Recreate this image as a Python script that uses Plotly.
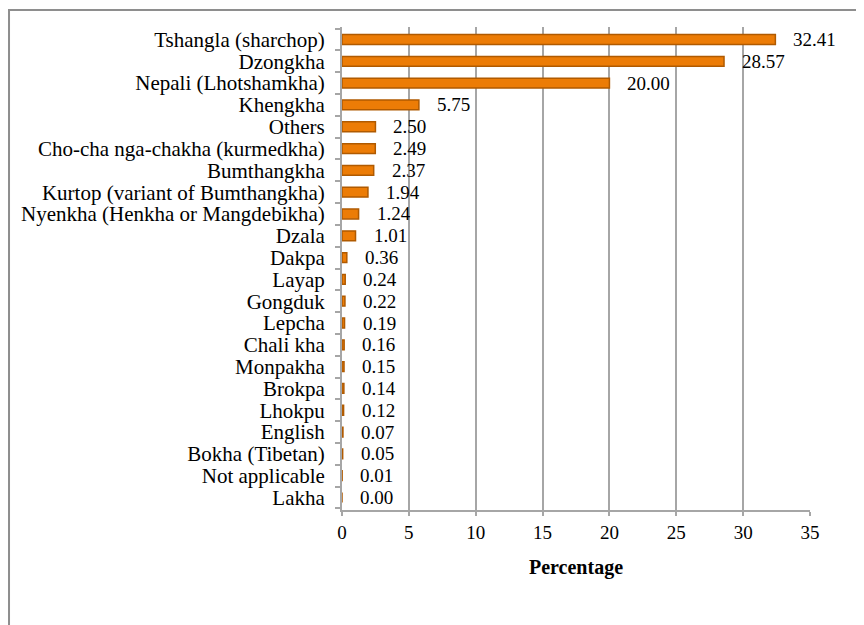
import plotly.graph_objects as go

languages = ["Tshangla (sharchop)", "Dzongkha", "Nepali (Lhotshamkha)", "Khengkha", "Others",
             "Cho-cha nga-chakha (kurmedkha)", "Bumthangkha", "Kurtop (variant of Bumthangkha)",
             "Nyenkha (Henkha or Mangdebikha)", "Dzala", "Dakpa", "Layap", "Gongduk", "Lepcha",
             "Chali kha", "Monpakha", "Brokpa", "Lhokpu", "English", "Bokha (Tibetan)",
             "Not applicable", "Lakha"]
percentages = [32.41, 28.57, 20.00, 5.75, 2.50, 2.49, 2.37, 1.94, 1.24, 1.01, 0.36, 0.24, 0.22,
               0.19, 0.16, 0.15, 0.14, 0.12, 0.07, 0.05, 0.01, 0.00]
x_ticks = [0, 5, 10, 15, 20, 25, 30, 35]

FONT = "Liberation Serif"

fig = go.Figure()
fig.add_trace(go.Bar(
    y=languages, x=percentages, orientation="h",
    marker=dict(color="#EC7C06", line=dict(color="#B05A00", width=1.5)),
    width=0.45,
))
for lang, v in zip(languages, percentages):
    fig.add_annotation(x=v, y=lang, text=f"{v:.2f}", showarrow=False,
                       xanchor="left", xshift=16, yshift=0,
                       font=dict(family=FONT, size=19, color="#000000"))

# outer chart border (left and top edges visible); page body adds an 8px offset
fig.add_shape(type="rect", xref="paper", yref="paper",
              x0=-0.7115, y0=-1.0, x1=2.0, y1=1.0352,
              line=dict(color="#8E8E8E", width=2), fillcolor="rgba(0,0,0,0)")

fig.update_layout(
    width=864, height=625,
    margin=dict(l=334, r=62, t=19, b=123, pad=0),
    paper_bgcolor="white", plot_bgcolor="white",
    showlegend=False,
    font=dict(family=FONT, size=19, color="#000000"),
    xaxis=dict(range=[0, 35], tickvals=x_ticks, showgrid=True, gridcolor="#A6A6A6", gridwidth=1.5,
               showline=True, linecolor="#A6A6A6", linewidth=2, automargin=False,
               ticks="outside", ticklen=4, tickcolor="#A6A6A6", tickwidth=1.5,
               zeroline=False, tickfont=dict(family=FONT, size=19),
               title=dict(text="<b>Percentage</b>", font=dict(family=FONT, size=20), standoff=18)),
    yaxis=dict(autorange="reversed", showline=True, linecolor="#A6A6A6", linewidth=2,
               automargin=False,
               tickmode="array", tickvals=languages, ticktext=languages,
               ticks="outside", ticklen=5, tickcolor="#A6A6A6", tickwidth=1.5,
               tickson="boundaries", showgrid=False,
               tickfont=dict(family=FONT, size=21), ticklabelstandoff=11),
)

fig.write_html("out.html")
